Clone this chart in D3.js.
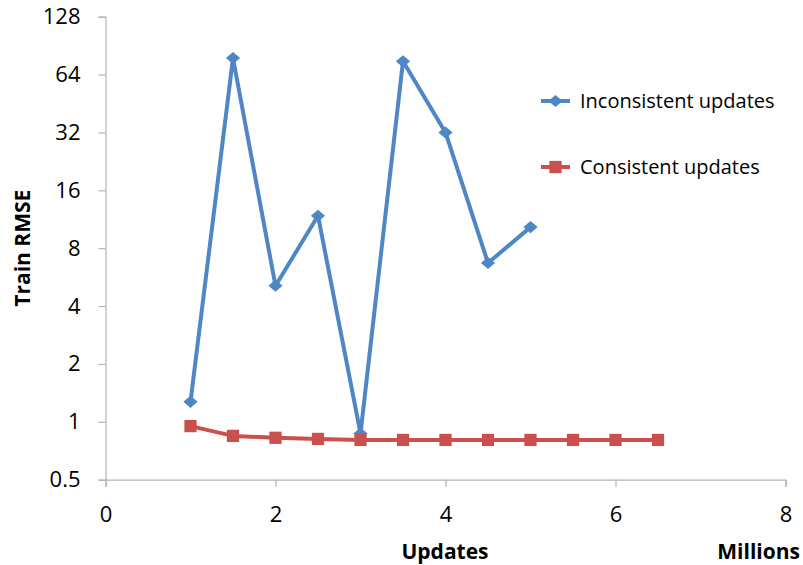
<!DOCTYPE html>
<html>
<head>
<meta charset="utf-8">
<script src="https://cdn.jsdelivr.net/npm/d3@7"></script>
<style>
  body { margin: 0; background: #fff; }
  text { font-family: "Open Sans", Lato, sans-serif; fill: #000; }
</style>
</head>
<body>
<svg id="chart" width="803" height="565"></svg>
<script>
'use strict';

// data (updates in millions, train RMSE)
var inconsistentX = [1, 1.5, 2, 2.5, 3, 3.5, 4, 4.5, 5];
var inconsistentY = [1.27, 78, 5.1, 11.8, 0.87, 75, 32, 6.7, 10.3];
var consistentX = [1, 1.5, 2, 2.5, 3, 3.5, 4, 4.5, 5, 5.5, 6, 6.5];
var consistentY = [0.95, 0.845, 0.826, 0.815, 0.805, 0.805, 0.805, 0.805, 0.805, 0.805, 0.805, 0.805];
var xTicks = [0, 2, 4, 6, 8];
var yTicks = [0.5, 1, 2, 4, 8, 16, 32, 64, 128];
var seriesNames = ['Inconsistent updates', 'Consistent updates'];

var margin = {left: 105.5, right: 17.5, top: 16.7, bottom: 85.3};
var width = 803, height = 565;

var svg = d3.select('#chart');
var x = d3.scaleLinear().domain([0, 8]).range([margin.left, width - margin.right]);
var y = d3.scaleLog().base(2).domain([0.5, 128]).range([height - margin.bottom, margin.top]);

var axisColor = '#b3b3b3';

// wider diamond than d3.symbolDiamond, like the excel marker
var wideDiamond = {
    draw: function(context, size) {
        var w = Math.sqrt(size) * 0.68, h = w * 0.85;
        context.moveTo(0, -h);
        context.lineTo(w, 0);
        context.lineTo(0, h);
        context.lineTo(-w, 0);
        context.closePath();
    }
};

var xAxis = svg.append('g')
    .attr('transform', 'translate(0,' + y(0.5) + ')')
    .call(d3.axisBottom(x).tickValues(xTicks).tickSize(7).tickPadding(20).tickFormat(d3.format('d')));
xAxis.select('.domain').attr('stroke', axisColor).attr('stroke-width', 1.2);
xAxis.selectAll('line').attr('stroke', axisColor).attr('stroke-width', 1.2);
xAxis.selectAll('text').style('font-size', '22px').attr('fill', '#000');

var yAxis = svg.append('g')
    .attr('transform', 'translate(' + x(0) + ',0)')
    .call(d3.axisLeft(y).tickValues(yTicks).tickSize(7).tickPadding(18).tickFormat(function(d) { return String(d); }));
yAxis.select('.domain').attr('stroke', axisColor).attr('stroke-width', 1.2);
yAxis.selectAll('line').attr('stroke', axisColor).attr('stroke-width', 1.2);
yAxis.selectAll('text').style('font-size', '22px').attr('fill', '#000');

// axis titles
svg.append('text')
    .attr('transform', 'translate(30,' + ((margin.top + height - margin.bottom) / 2) + ') rotate(-90)')
    .attr('text-anchor', 'middle')
    .style('font-size', '21px').style('font-weight', 'bold')
    .text('Train RMSE');
svg.append('text')
    .attr('x', 445).attr('y', 559)
    .attr('text-anchor', 'middle')
    .style('font-size', '21px').style('font-weight', 'bold')
    .text('Updates');
svg.append('text')
    .attr('x', 800).attr('y', 559)
    .attr('text-anchor', 'end')
    .style('font-size', '21px').style('font-weight', 'bold')
    .text('Millions');

var line = d3.line().x(function(d) { return x(d[0]); }).y(function(d) { return y(d[1]); });

var series = [
    {name: seriesNames[0], xs: inconsistentX, ys: inconsistentY, color: '#4f86c6', marker: wideDiamond, size: 110},
    {name: seriesNames[1], xs: consistentX, ys: consistentY, color: '#c9504c', marker: d3.symbolSquare, size: 150}
];

series.forEach(function(s) {
    var pts = s.xs.map(function(v, i) { return [v, s.ys[i]]; });
    var g = svg.append('g');
    g.append('path')
        .datum(pts)
        .attr('d', line)
        .attr('fill', 'none')
        .attr('stroke', s.color)
        .attr('stroke-width', 4)
        .attr('stroke-linejoin', 'round');
    g.selectAll('path.mark')
        .data(pts)
        .enter().append('path')
        .attr('class', 'mark')
        .attr('d', d3.symbol().type(s.marker).size(s.size))
        .attr('transform', function(d) { return 'translate(' + x(d[0]) + ',' + y(d[1]) + ')'; })
        .attr('fill', s.color);
});

// legend
var legend = svg.append('g');
series.forEach(function(s, i) {
    var ly = 101 + i * 66;
    legend.append('line')
        .attr('x1', 541).attr('x2', 570).attr('y1', ly).attr('y2', ly)
        .attr('stroke', s.color).attr('stroke-width', 4);
    legend.append('path')
        .attr('d', d3.symbol().type(s.marker).size(s.size))
        .attr('transform', 'translate(555.5,' + ly + ')')
        .attr('fill', s.color);
    legend.append('text')
        .attr('x', 580).attr('y', ly + 7)
        .style('font-size', '20px')
        .text(s.name);
});
</script>
</body>
</html>
